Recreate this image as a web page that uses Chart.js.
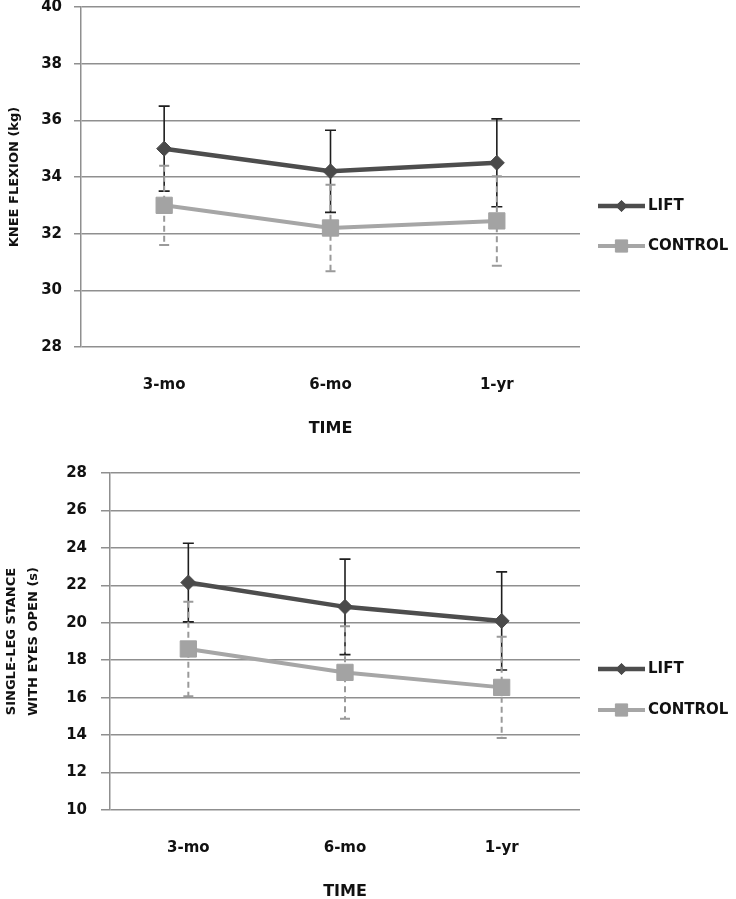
<!DOCTYPE html>
<html><head><meta charset="utf-8">
<script src="https://cdn.jsdelivr.net/npm/chart.js@4"></script>
<style>
html,body{margin:0;padding:0;background:#fff;width:736px;height:899px;overflow:hidden;position:relative}
#c1{position:absolute;left:0;top:-20px}
#c2{position:absolute;left:0;top:450px}
</style></head><body>
<canvas id="c1" width="736" height="470"></canvas>
<canvas id="c2" width="736" height="460"></canvas>
<script>
// ---- data ----
const timepoints = ['3-mo', '6-mo', '1-yr'];
const seriesNames = ['LIFT', 'CONTROL'];
const kneeLift = [35.0, 34.2, 34.5];
const kneeLiftSD = [1.5, 1.45, 1.55];
const kneeControl = [33.0, 32.2, 32.45];
const kneeControlSD = [1.4, 1.53, 1.58];
const stanceLift = [22.15, 20.85, 20.1];
const stanceLiftSD = [2.1, 2.55, 2.62];
const stanceControl = [18.6, 17.35, 16.55];
const stanceControlSD = [2.52, 2.47, 2.7];
const kneeAxis = [28, 40, 2];     // min, max, step
const stanceAxis = [10, 28, 2];
const xTitle = 'TIME';
const kneeTitle = 'KNEE FLEXION (kg)';
const stanceTitle = ['SINGLE-LEG STANCE', 'WITH EYES OPEN (s)'];

// ---- styles ----
const FONT = '"DejaVu Sans", sans-serif';
const GRID = '#8f8f8f';
const LIFT_COL = '#4d4d4d';
const CTRL_COL = '#a6a6a6';

Chart.defaults.font.family = FONT;
Chart.defaults.color = '#111';

const errorBars = {
  id: 'errorBars',
  beforeDatasetDraw(chart, args) {
    const ds = chart.data.datasets[args.index];
    if (!ds.errors) return;
    const ys = chart.scales.y, ctx = chart.ctx;
    ctx.save();
    ctx.strokeStyle = ds.errorColor;
    ctx.lineWidth = ds.errorWidth;
    args.meta.data.forEach((pt, i) => {
      const v = ds.data[i], e = ds.errors[i];
      const yt = ys.getPixelForValue(v + e), yb = ys.getPixelForValue(v - e);
      const x = pt.x, hw = ds.capHalf;
      ctx.setLineDash(ds.errorDash || []);
      ctx.beginPath(); ctx.moveTo(x, yt); ctx.lineTo(x, yb); ctx.stroke();
      ctx.setLineDash([]);
      ctx.beginPath();
      ctx.moveTo(x - hw, yt); ctx.lineTo(x + hw, yt);
      ctx.moveTo(x - hw, yb); ctx.lineTo(x + hw, yb);
      ctx.stroke();
    });
    ctx.restore();
  }
};

const lineLegend = {
  id: 'lineLegend',
  afterDraw(chart, args, opts) {
    const ctx = chart.ctx;
    chart.data.datasets.forEach((ds, i) => {
      const y = opts.ys[i];
      ctx.save();
      ctx.strokeStyle = ds.borderColor;
      ctx.lineWidth = ds.borderWidth;
      ctx.beginPath(); ctx.moveTo(opts.x1, y); ctx.lineTo(opts.x2, y); ctx.stroke();
      ctx.fillStyle = ds.pointBackgroundColor;
      ctx.strokeStyle = ds.pointBorderColor;
      ctx.lineWidth = 1;
      Chart.helpers.drawPoint(ctx, {pointStyle: ds.pointStyle, radius: ds.pointRadius * 0.75, borderWidth: 1, rotation: 0}, (opts.x1 + opts.x2) / 2, y);
      ctx.fillStyle = '#111';
      ctx.font = 'bold 15px ' + FONT;
      ctx.textBaseline = 'middle';
      ctx.textAlign = 'left';
      ctx.fillText(ds.label, opts.textX, y);
      ctx.restore();
    });
  }
};

function makeDatasets(lift, liftSD, ctrl, ctrlSD) {
  return [
    {
      label: seriesNames[0], data: lift, errors: liftSD, order: 2,
      borderColor: LIFT_COL, borderWidth: 4.5, tension: 0,
      pointStyle: 'rectRot', pointRadius: 7.5, pointBackgroundColor: '#4a4a4a', pointBorderColor: '#4a4a4a', pointBorderWidth: 1,
      errorColor: '#1e1e1e', errorWidth: 1.6, errorDash: [], capHalf: 5.5
    },
    {
      label: seriesNames[1], data: ctrl, errors: ctrlSD, order: 1,
      borderColor: CTRL_COL, borderWidth: 4, tension: 0,
      pointStyle: 'rect', pointRadius: 11.5, pointBackgroundColor: '#a3a3a3', pointBorderColor: '#a3a3a3', pointBorderWidth: 1,
      errorColor: '#9a9a9a', errorWidth: 2, errorDash: [6, 4], capHalf: 5
    }
  ];
}

function makeChart(id, cfg) {
  return new Chart(document.getElementById(id), {
    type: 'line',
    data: { labels: timepoints, datasets: cfg.datasets },
    options: {
      responsive: false, animation: false, devicePixelRatio: 1,
      layout: { padding: { top: cfg.padTop, right: 156, bottom: 0, left: 0 } },
      plugins: { legend: { display: false }, tooltip: { enabled: false }, lineLegend: cfg.legend },
      scales: {
        x: {
          offset: true,
          grid: { display: false, drawTicks: false },
          border: { display: false },
          ticks: { padding: 29, font: { size: 15, weight: 'bold' }, color: '#111' },
          title: { display: true, text: xTitle, font: { size: 16, weight: 'bold' }, color: '#111', padding: { top: 0, bottom: cfg.xTitlePad } },
          afterFit: s => { s.height = cfg.xHeight; }
        },
        y: {
          min: cfg.axis[0], max: cfg.axis[1],
          ticks: { stepSize: cfg.axis[2], padding: cfg.tickPad, font: { size: 15, weight: 'bold' }, color: '#111' },
          grid: { color: GRID, lineWidth: 1.5, tickLength: cfg.tickLen, tickColor: GRID, drawTicks: true },
          border: { display: true, color: GRID, width: 1.5 },
          title: { display: true, text: cfg.yTitle, font: { size: 13, weight: 'bold', lineHeight: cfg.yLH }, color: '#111', padding: { top: cfg.yTitlePad, bottom: 0 } },
          afterFit: s => { s.width = cfg.yWidth; }
        }
      }
    },
    plugins: [errorBars, lineLegend]
  });
}

makeChart('c1', {
  datasets: makeDatasets(kneeLift, kneeLiftSD, kneeControl, kneeControlSD),
  axis: kneeAxis, yTitle: kneeTitle, yLH: 1.2, yTitlePad: 7,
  padTop: 27, xHeight: 103, yWidth: 81, tickPad: 12, tickLen: 7, xTitlePad: 12,
  legend: { x1: 598, x2: 645, textX: 648, ys: [226, 266] }
});
makeChart('c2', {
  datasets: makeDatasets(stanceLift, stanceLiftSD, stanceControl, stanceControlSD),
  axis: stanceAxis, yTitle: stanceTitle, yLH: 1.73, yTitlePad: 0,
  padTop: 22, xHeight: 100, yWidth: 110, tickPad: 14, tickLen: 9, xTitlePad: 9,
  legend: { x1: 598, x2: 645, textX: 648, ys: [219, 260] }
});
</script>
</body></html>
